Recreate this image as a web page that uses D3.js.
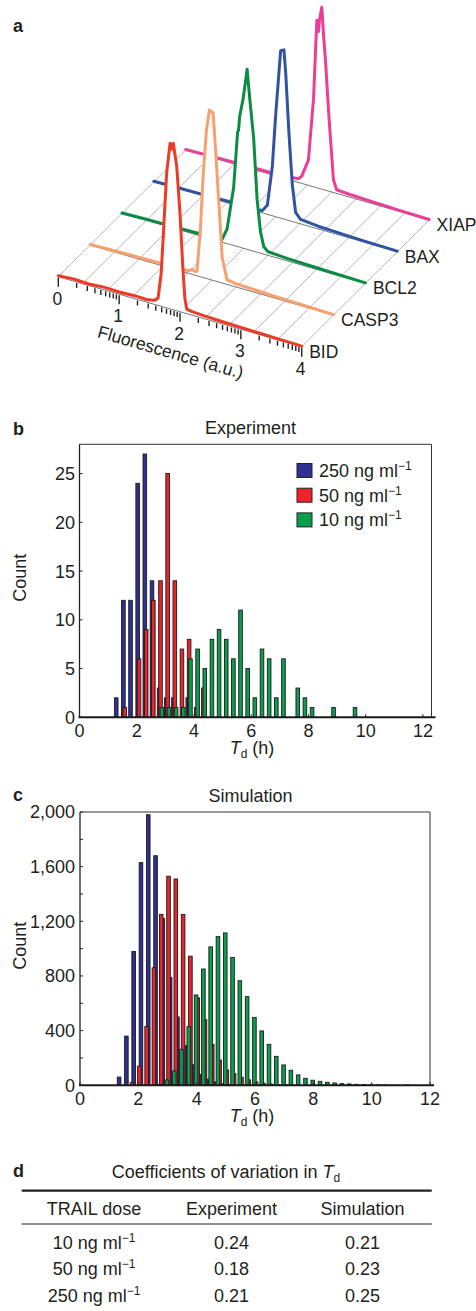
<!DOCTYPE html>
<html>
<head>
<meta charset="utf-8">
<script src="https://cdn.jsdelivr.net/npm/d3@7"></script>
<style>
  body { margin: 0; background: #fff; }
  text { font-family: "Liberation Sans", Arial, Helvetica, sans-serif; fill: #231f20; }
</style>
</head>
<body>
<svg id="fig" width="476" height="1311"></svg>
<script>
// ---------- panel a: fluorescence distributions (log10 a.u., relative height 0-100)
var rowNames = ["BID", "CASP3", "BCL2", "BAX", "XIAP"];
var fluorTicks = [0, 1, 2, 3, 4];
var floorGrid = [0, 0.4, 0.8, 1.2, 1.6, 2.0, 2.4, 2.8, 3.2, 3.6, 4.0];

var bidCurve = [[0,0.5],[0.25,1.2],[0.5,0.8],[0.75,1.5],[1.0,1.2],[1.25,1.6],[1.45,1.4],[1.58,2.2],[1.64,4],
  [1.69,18],[1.727,40],[1.78,74],[1.837,91],[1.865,88],[1.89,91.5],[1.947,79],[2.0,54],[2.046,25],[2.08,8],
  [2.11,2.5],[2.2,2],[2.4,1.6],[2.7,1.2],[3.0,1.0],[3.3,0.8],[3.6,0.6],[4.0,0.3]];
var casp3Curve = [[0,0.3],[0.3,0.6],[0.6,0.8],[0.9,1.0],[1.2,1.2],[1.5,1.3],[1.62,1.4],[1.68,2.8],[1.72,2],
  [1.755,2.5],[1.81,25],[1.86,58],[1.91,81],[1.96,93],[2.02,92],[2.06,73],[2.11,46],[2.17,14],[2.25,2.5],
  [2.4,1.8],[2.7,1.4],[3.0,1.0],[3.5,0.6],[4.0,0.2]];
var bcl2Curve = [[0,0.2],[0.4,0.6],[0.8,0.8],[1.2,1.0],[1.5,1.0],[1.64,1.2],[1.727,8],[1.835,32],[1.90,63],
  [1.915,64],[1.934,72],[1.99,82],[2.03,92],[2.056,99],[2.08,90],[2.10,83],[2.164,62],[2.22,29],[2.275,12],
  [2.33,4],[2.4,2],[2.7,1.4],[3.0,1.0],[3.5,0.6],[4.0,0.3]];
var baxCurve = [[0,0.2],[0.4,0.5],[0.8,0.7],[1.2,0.9],[1.6,1.0],[1.78,1.2],[1.865,5],[1.947,27],[2.0,55],
  [2.056,80],[2.084,92],[2.138,93],[2.166,81],[2.22,48],[2.276,20],[2.33,5.5],[2.41,2.5],[2.7,1.5],
  [3.0,1.1],[3.5,0.6],[4.0,0.3]];
var xiapCurve = [[0,0.3],[0.4,0.6],[0.8,0.8],[1.2,1.0],[1.6,1.2],[1.85,2],[1.908,4],[2.017,14],[2.1,48],
  [2.14,80],[2.155,92],[2.18,86],[2.2,93],[2.237,100],[2.263,86],[2.3,70],[2.34,48],[2.373,32],[2.428,7],
  [2.48,2],[2.7,1.5],[3.0,1.1],[3.5,0.6],[4.0,0.3]];

// ---------- panels b, c: histograms of Td (h), bins 0.25 h wide
var doseLabels = ["250 ng ml", "50 ng ml", "10 ng ml"];
var binWidth = 0.25;
var expFirstBin = 1.33;
var exp250 = [2,12,12,24,27,14,3,2,2,0,2,0,0,0,0,0,0,0,0,0,0,0,0,0,0,0,0,0,0,0,0,0,0,0];
var exp50  = [0,1,0,6,9,12,14,25,14,7,8,1,3,0,0,0,0,0,0,0,0,0,0,0,0,0,0,0,0,0,0,0,0,0];
var exp10  = [0,0,0,0,0,0,1,1,1,1,6,7,5,8,9,8,6,11,5,2,7,6,2,6,0,3,2,1,0,0,1,0,0,1];
var simFirstBin = 1.285;
var sim250 = [60,360,980,1630,1980,1680,1220,790,500,290,150,80,45,25,12,6,
  0,0,0,0,0,0,0,0,0,0,0,0,0,0,0,0,0,0,0,0,0,0,0,0,0];
var sim50  = [0,0,20,140,430,860,1250,1530,1510,1250,945,640,480,300,185,112,85,59,40,25,16,10,6,4,2,
  0,0,0,0,0,0,0,0,0,0,0,0,0,0,0,0];
var sim10  = [0,0,0,0,0,0,5,39,105,263,429,661,851,1013,1088,1115,935,765,649,497,398,300,212,149,110,
  76,51,37,29,22,17,12,10,7,6,4,3,2,1,0,2];
var xTicks = [0, 2, 4, 6, 8, 10, 12];

// ---------- panel d: table
var tableDoses = ["10 ng ml", "50 ng ml", "250 ng ml"];
var cvExperiment = [0.24, 0.18, 0.21];
var cvSimulation = [0.21, 0.23, 0.25];

var svg = d3.select("#fig");
var rowColors = ["#ee3b25", "#f8a06f", "#0b8c43", "#3153a4", "#ea3f98"];
var barColors = ["#2e3192", "#ee2229", "#0a9f4d"];

function panelLetter(t, y) {
  svg.append("text").attr("x", 13).attr("y", y).attr("font-size", 18).attr("font-weight", "bold").text(t);
}
function superMinusOne(sel, size) {
  sel.append("tspan").attr("dy", -7).attr("font-size", size).text("\u22121");
}

// ================= panel a =================
panelLetter("a", 32);

var fx = d3.scaleLinear().domain([0, 4]).range([0, 243.4]);
var slope = 0.2877;
var depthX = d3.scaleLinear().domain([0, 4]).range([58.3, 185.7]);
var depthY = d3.scaleLinear().domain([0, 4]).range([276.7, 150]);
var hScale = d3.scaleLinear().domain([0, 100]).range([0, 182]);
function proj(x, row, h) {
  return [depthX(row) + fx(x), depthY(row) + fx(x) * slope - hScale(h)];
}

var ga = svg.append("g");
ga.selectAll(".grid").data(floorGrid).enter().append("line")
    .attr("x1", d => proj(d, 0, 0)[0]).attr("y1", d => proj(d, 0, 0)[1])
    .attr("x2", d => proj(d, 4, 0)[0]).attr("y2", d => proj(d, 4, 0)[1])
    .attr("stroke", "#b5b5b5").attr("stroke-width", 1);

var curves = [bidCurve, casp3Curve, bcl2Curve, baxCurve, xiapCurve];
[4, 3, 2, 1, 0].forEach(function(r) {
  var pts = curves[r];
  var area = d3.area()
      .x(d => proj(d[0], r, 0)[0])
      .y0(d => proj(d[0], r, 0)[1])
      .y1(d => proj(d[0], r, d[1])[1]);
  ga.append("path").datum(pts).attr("d", area).attr("fill", "#fff");
  ga.append("line")
      .attr("x1", proj(0, r, 0)[0]).attr("y1", proj(0, r, 0)[1])
      .attr("x2", proj(4, r, 0)[0]).attr("y2", proj(4, r, 0)[1])
      .attr("stroke", "#666").attr("stroke-width", 0.9);
  var line = d3.line().x(d => proj(d[0], r, d[1])[0]).y(d => proj(d[0], r, d[1])[1]);
  ga.append("path").datum(pts).attr("d", line)
      .attr("fill", "none").attr("stroke", rowColors[r]).attr("stroke-width", 3)
      .attr("stroke-linejoin", "round").attr("stroke-linecap", "round");
  ga.append("text")
      .attr("x", proj(4, r, 0)[0] + 7.5).attr("y", proj(4, r, 0)[1] + 11)
      .attr("font-size", 17.5).text(rowNames[r]);
});

// log-scale ticks on the front (BID) axis
var logScale = d3.scaleLog().domain([1, 1e4]);
var allTicks = logScale.ticks().map(v => Math.log10(v));
ga.selectAll(".ftick").data(allTicks).enter().append("line")
    .attr("x1", d => proj(d, 0, 0)[0]).attr("x2", d => proj(d, 0, 0)[0])
    .attr("y1", d => proj(d, 0, 0)[1] + 1)
    .attr("y2", d => proj(d, 0, 0)[1] + (Math.abs(d - Math.round(d)) < 1e-6 ? 10 : 6))
    .attr("stroke", "#222").attr("stroke-width", 1.4);
ga.selectAll(".flab").data(fluorTicks).enter().append("text")
    .attr("x", d => proj(d, 0, 0)[0] - 1).attr("y", d => proj(d, 0, 0)[1] + 28)
    .attr("text-anchor", "middle").attr("font-size", 17.5).text(d => d);
ga.append("text")
    .attr("transform", "translate(170.5,352) rotate(16.1)")
    .attr("text-anchor", "middle").attr("dy", "0.35em").attr("font-size", 17.5)
    .text("Fluorescence (a.u.)");

// ================= panels b, c =================
function drawHist(o) {
  var x = d3.scaleLinear().domain(o.xDomain).range(o.xRange);
  var y = d3.scaleLinear().domain(o.yDomain).range(o.yRange);
  var g = svg.append("g");
  var bw = 3.6;
  o.series.forEach(function(counts, si) {
    var bars = counts.map((c, i) => ({ t: o.first + i * binWidth + o.offsets[si], c: c })).filter(d => d.c > 0);
    g.selectAll(".bar" + si).data(bars).enter().append("rect")
        .attr("x", d => x(d.t) - bw / 2).attr("width", bw)
        .attr("y", d => y(d.c)).attr("height", d => y(0) - y(d.c))
        .attr("fill", barColors[si]).attr("stroke", "#1b1b1b").attr("stroke-width", 0.9);
  });
  var x0 = o.xRange[0], x1 = o.xRange[1], yb = o.yRange[0], yt = o.yRange[1];
  g.append("line").attr("x1", x0).attr("x2", x1).attr("y1", yt).attr("y2", yt).attr("stroke", "#333").attr("stroke-width", 1);
  g.append("line").attr("x1", x1).attr("x2", x1).attr("y1", yt).attr("y2", yb).attr("stroke", "#333").attr("stroke-width", 1);
  g.append("line").attr("x1", x0).attr("x2", x0).attr("y1", yt).attr("y2", yb).attr("stroke", "#222").attr("stroke-width", 1.3);
  g.append("line").attr("x1", x0 - 1).attr("x2", x1 + 4).attr("y1", yb).attr("y2", yb).attr("stroke", "#1a1a1a").attr("stroke-width", 2);

  // x ticks (inward) and labels
  g.selectAll(".xt").data(xTicks).enter().append("line")
      .attr("x1", d => x(d)).attr("x2", d => x(d)).attr("y1", yb).attr("y2", yb - 3)
      .attr("stroke", "#222").attr("stroke-width", 1);
  g.selectAll(".xl").data(xTicks).enter().append("text")
      .attr("x", d => x(d)).attr("y", yb + 19.5).attr("text-anchor", "middle").attr("font-size", 18).text(d => d);
  // y ticks
  g.selectAll(".yt").data(o.yMinor).enter().append("line")
      .attr("x1", x0).attr("x2", x0 + 3).attr("y1", d => y(d)).attr("y2", d => y(d))
      .attr("stroke", "#222").attr("stroke-width", 1);
  g.selectAll(".yl").data(o.yTicks).enter().append("text")
      .attr("x", 75).attr("y", d => y(d)).attr("dy", "0.36em").attr("text-anchor", "end")
      .attr("font-size", 18).text(o.yFormat);

  g.append("text").attr("transform", "translate(26," + ((yb + yt) / 2 - 3) + ") rotate(-90)")
      .attr("text-anchor", "middle").attr("font-size", 18).text("Count");
  g.append("text").attr("x", 250.5).attr("y", yt - 10).attr("text-anchor", "middle").attr("font-size", 18).text(o.title);

  var xl = g.append("text").attr("x", 252).attr("y", yb + 37).attr("text-anchor", "middle").attr("font-size", 18);
  xl.append("tspan").attr("font-style", "italic").text("T");
  xl.append("tspan").attr("dy", 4).attr("font-size", 12).text("d");
  xl.append("tspan").attr("dy", -4).text(" (h)");
  return g;
}

panelLetter("b", 435);
var gb = drawHist({
  xDomain: [0, 12.3], xRange: [79.5, 431.5],
  yDomain: [0, 28], yRange: [717.3, 444.3],
  series: [exp250, exp50, exp10], first: expFirstBin, offsets: [-0.047, 0, 0.047],
  yTicks: [0, 5, 10, 15, 20, 25], yMinor: [0, 5, 10, 15, 20, 25], yFormat: d => d,
  title: "Experiment"
});
// legend
doseLabels.forEach(function(lab, i) {
  var yy = 463.5 + i * 24.7;
  gb.append("rect").attr("x", 297).attr("y", yy).attr("width", 15).attr("height", 14)
      .attr("fill", barColors[i]).attr("stroke", "#222").attr("stroke-width", 1);
  var t = gb.append("text").attr("x", 319).attr("y", yy + 13.5).attr("font-size", 18);
  t.append("tspan").text(lab);
  superMinusOne(t, 12);
});

panelLetter("c", 800.5);
drawHist({
  xDomain: [0, 12], xRange: [80, 430],
  yDomain: [0, 2000], yRange: [1085.3, 812],
  series: [sim250, sim50, sim10], first: simFirstBin, offsets: [0.055, 0, -0.055],
  yTicks: [0, 400, 800, 1200, 1600, 2000], yMinor: d3.range(0, 2001, 200), yFormat: d3.format(","),
  title: "Simulation"
});

// ================= panel d =================
panelLetter("d", 1177);
var gd = svg.append("g");
var tt = gd.append("text").attr("x", 226).attr("y", 1178).attr("text-anchor", "middle").attr("font-size", 18);
tt.append("tspan").text("Coefficients of variation in ");
tt.append("tspan").attr("font-style", "italic").text("T");
tt.append("tspan").attr("dy", 4).attr("font-size", 12).text("d");
gd.append("line").attr("x1", 21.7).attr("x2", 431.7).attr("y1", 1190.7).attr("y2", 1190.7).attr("stroke", "#231f20").attr("stroke-width", 2.2);
gd.append("line").attr("x1", 21.7).attr("x2", 431.7).attr("y1", 1224).attr("y2", 1224).attr("stroke", "#231f20").attr("stroke-width", 1);
var colX = [94, 231.5, 362.5];
["TRAIL dose", "Experiment", "Simulation"].forEach(function(h, i) {
  gd.append("text").attr("x", colX[i]).attr("y", 1215).attr("text-anchor", "middle").attr("font-size", 18).text(h);
});
var fmt = d3.format(".2f");
tableDoses.forEach(function(dose, i) {
  var yy = 1249 + i * 26.3;
  var t = gd.append("text").attr("x", colX[0]).attr("y", yy).attr("text-anchor", "middle").attr("font-size", 18);
  t.append("tspan").text(dose);
  superMinusOne(t, 12);
  gd.append("text").attr("x", colX[1]).attr("y", yy).attr("text-anchor", "middle").attr("font-size", 18).text(fmt(cvExperiment[i]));
  gd.append("text").attr("x", colX[2]).attr("y", yy).attr("text-anchor", "middle").attr("font-size", 18).text(fmt(cvSimulation[i]));
});
</script>
</body>
</html>
